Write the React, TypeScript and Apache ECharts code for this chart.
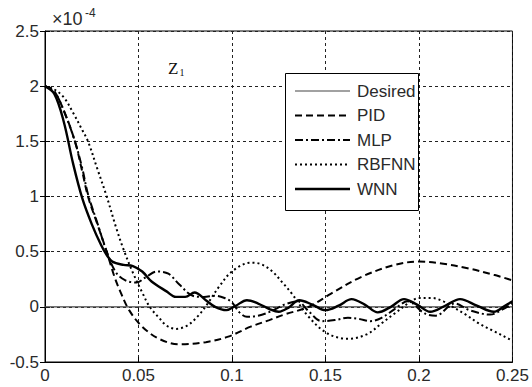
import React, { useEffect, useRef } from "react";
import * as echarts from "echarts";

// ---- data (values in units of 1e-4) ----
const desiredT = [0, 0.25];
const desiredV = [0, 0];

const pidT = [0, 0.005, 0.01, 0.016, 0.02, 0.023, 0.028, 0.033, 0.037, 0.04, 0.045, 0.052, 0.061, 0.072, 0.086, 0.098, 0.11, 0.12, 0.128, 0.141, 0.153, 0.169, 0.187, 0.2, 0.213, 0.226, 0.24, 0.25];
const pidV = [2, 1.95, 1.78, 1.5, 1.22, 1.0, 0.75, 0.5, 0.28, 0.15, -0.03, -0.18, -0.29, -0.34, -0.32, -0.27, -0.18, -0.12, -0.07, 0.0, 0.12, 0.27, 0.38, 0.41, 0.39, 0.35, 0.29, 0.24];

const mlpT = [0, 0.005, 0.01, 0.016, 0.02, 0.023, 0.028, 0.033, 0.038, 0.043, 0.049, 0.054, 0.06, 0.066, 0.072, 0.079, 0.085, 0.091, 0.096, 0.1, 0.104, 0.108, 0.114, 0.121, 0.128, 0.135, 0.141, 0.148, 0.155, 0.162, 0.168, 0.174, 0.18, 0.187, 0.194, 0.203, 0.209, 0.219, 0.227, 0.238, 0.245, 0.25];
const mlpV = [2, 1.95, 1.78, 1.5, 1.25, 1.02, 0.76, 0.5, 0.31, 0.24, 0.22, 0.27, 0.32, 0.3, 0.2, 0.1, 0.09, 0.1, 0.08, 0.04, -0.05, -0.09, -0.08, -0.04, 0.02, 0.05, -0.04, -0.13, -0.12, -0.1, -0.11, -0.13, -0.1, -0.02, 0.05, -0.06, -0.08, 0.03, -0.03, -0.07, -0.02, 0.03];

const rbfT = [0, 0.005, 0.01, 0.015, 0.02, 0.023, 0.028, 0.033, 0.038, 0.042, 0.047, 0.052, 0.056, 0.061, 0.065, 0.07, 0.076, 0.082, 0.087, 0.093, 0.1, 0.11, 0.115, 0.121, 0.127, 0.132, 0.141, 0.151, 0.162, 0.172, 0.18, 0.187, 0.195, 0.2, 0.207, 0.213, 0.218, 0.225, 0.232, 0.24, 0.248, 0.25];
const rbfV = [2, 1.97, 1.9, 1.76, 1.6, 1.5, 1.25, 1.0, 0.72, 0.52, 0.31, 0.13, 0.0, -0.1, -0.17, -0.2, -0.17, -0.08, 0.03, 0.18, 0.32, 0.4, 0.39, 0.33, 0.22, 0.12, -0.09, -0.24, -0.29, -0.25, -0.15, -0.06, 0.04, 0.08, 0.08, 0.05, 0.0, -0.07, -0.15, -0.22, -0.29, -0.31];

const wnnT = [0, 0.005, 0.01, 0.015, 0.02, 0.025, 0.03, 0.033, 0.036, 0.042, 0.047, 0.052, 0.057, 0.065, 0.07, 0.075, 0.08, 0.086, 0.091, 0.097, 0.102, 0.108, 0.114, 0.12, 0.125, 0.13, 0.136, 0.143, 0.15, 0.157, 0.164, 0.171, 0.178, 0.185, 0.192, 0.199, 0.206, 0.214, 0.222, 0.231, 0.24, 0.246, 0.25];
const wnnV = [2, 1.93, 1.68, 1.3, 0.98, 0.75, 0.56, 0.47, 0.41, 0.38, 0.37, 0.32, 0.23, 0.14, 0.09, 0.09, 0.13, 0.06, 0.0, -0.03, 0.01, 0.06, 0.03, -0.02, -0.045, -0.01, 0.06, 0.02, -0.03, 0.01, 0.07, 0.02, -0.05, 0.0, 0.07, 0.02, -0.045, 0.01, 0.07, 0.01, -0.045, 0.01, 0.05];

const seriesNames = ["Desired", "PID", "MLP", "RBFNN", "WNN"];
const xTicks = [0, 0.05, 0.1, 0.15, 0.2, 0.25];
const yTicks = [-0.5, 0, 0.5, 1, 1.5, 2, 2.5];

const zip = (t: number[], v: number[]) => t.map((x, i) => [x, v[i]]);

const FONT = "Liberation Sans, Arial, sans-serif";
const SERIF = "Liberation Serif, Times New Roman, serif";
const TXT = "#2a2a2a";

const styles: Record<string, { color: string; width: number; dash: number[] | null }> = {
  Desired: { color: "#444", width: 1.2, dash: null },
  PID: { color: "#000", width: 2, dash: [7, 4] },
  MLP: { color: "#000", width: 2, dash: [8, 3, 2, 3] },
  RBFNN: { color: "#000", width: 2, dash: [2, 3] },
  WNN: { color: "#000", width: 2.4, dash: null },
};

export default function App() {
  const ref = useRef<HTMLDivElement>(null);
  useEffect(() => {
    if (!ref.current) return;
    const chart = echarts.init(ref.current, null, { renderer: "svg" });
    const fmt = (v: number) => String(+(+v).toFixed(2));
    const baseX = { type: "value", min: xTicks[0], max: xTicks[xTicks.length - 1], interval: 0.05 };
    const baseY = { type: "value", min: yTicks[0], max: yTicks[yTicks.length - 1], interval: 0.5 };
    const lineSeries = (name: string, t: number[], v: number[]) => {
      const s = styles[name];
      return {
        name,
        type: "line",
        data: zip(t, v),
        showSymbol: false,
        symbol: "none",
        smooth: 0.35,
        xAxisIndex: 0,
        yAxisIndex: 0,
        lineStyle: { color: s.color, width: s.width, type: s.dash || "solid" },
        itemStyle: { color: s.color },
        z: 3,
      };
    };

    // manual legend (layout only)
    const lgX = 285, lgY = 73, lgW = 133, lgH = 137, row0 = 91, rowGap = 24.5;
    const legendEls: any[] = [
      {
        type: "rect",
        shape: { x: lgX + 0.5, y: lgY + 0.5, width: lgW, height: lgH },
        style: { fill: "#fff", stroke: "#000", lineWidth: 1 },
        z: 10,
      },
    ];
    seriesNames.forEach((n, i) => {
      const s = styles[n];
      const y = row0 + i * rowGap;
      legendEls.push({
        type: "line",
        shape: { x1: 295, y1: y, x2: 350, y2: y },
        style: { stroke: s.color, lineWidth: s.width, lineDash: s.dash || undefined },
        z: 11,
      });
      legendEls.push({
        type: "text",
        x: 357,
        y: y,
        style: { text: n, fontSize: 17, fill: TXT, fontFamily: FONT, verticalAlign: "middle", align: "left" },
        z: 11,
      });
    });

    chart.setOption({
      animation: false,
      backgroundColor: "#fff",
      grid: {
        left: 45,
        top: 31,
        width: 471,
        height: 331,
        show: true,
        borderColor: "#000",
        borderWidth: 1,
        backgroundColor: "#fff",
      },
      xAxis: [
        {
          ...baseX,
          position: "bottom",
          axisLine: { show: true, onZero: false, lineStyle: { color: "#000", width: 1 } },
          axisTick: { show: true, inside: true, length: 5, lineStyle: { color: "#000" } },
          axisLabel: { formatter: fmt, fontSize: 17, color: TXT, fontFamily: FONT, margin: 5 },
          splitLine: { show: true, lineStyle: { color: "#222", width: 1, type: [3, 3] } },
        },
        {
          ...baseX,
          position: "top",
          axisLine: { show: false },
          axisTick: { show: true, inside: true, length: 5, lineStyle: { color: "#000" } },
          axisLabel: { show: false },
          splitLine: { show: false },
        },
      ],
      yAxis: [
        {
          ...baseY,
          position: "left",
          axisLine: { show: true, lineStyle: { color: "#000", width: 1 } },
          axisTick: { show: true, inside: true, length: 5, lineStyle: { color: "#000" } },
          axisLabel: { formatter: fmt, fontSize: 17, color: TXT, fontFamily: FONT, margin: 6 },
          splitLine: { show: true, lineStyle: { color: "#222", width: 1, type: [3, 3] } },
        },
        {
          ...baseY,
          position: "right",
          axisLine: { show: false },
          axisTick: { show: true, inside: true, length: 5, lineStyle: { color: "#000" } },
          axisLabel: { show: false },
          splitLine: { show: false },
        },
      ],
      graphic: [
        {
          type: "text",
          x: 52,
          y: 19,
          style: { text: "×10", fontSize: 18, fill: TXT, fontFamily: FONT, verticalAlign: "middle" },
        },
        {
          type: "text",
          x: 85,
          y: 13,
          style: { text: "-4", fontSize: 12, fill: TXT, fontFamily: FONT, verticalAlign: "middle" },
        },
        {
          type: "text",
          x: 168,
          y: 68,
          style: { text: "Z", fontSize: 17, fill: "#111", fontFamily: SERIF, verticalAlign: "middle" },
        },
        {
          type: "text",
          x: 179.5,
          y: 72,
          style: { text: "1", fontSize: 10, fill: "#111", fontFamily: SERIF, verticalAlign: "middle" },
        },
        ...legendEls,
      ],
      series: [
        lineSeries("Desired", desiredT, desiredV),
        lineSeries("PID", pidT, pidV),
        lineSeries("MLP", mlpT, mlpV),
        lineSeries("RBFNN", rbfT, rbfV),
        lineSeries("WNN", wnnT, wnnV),
      ],
    });
    return () => chart.dispose();
  }, []);
  return (
    <div
      ref={ref}
      style={{ position: "fixed", left: 0, top: 0, width: 532, height: 387, background: "#fff" }}
    />
  );
}
